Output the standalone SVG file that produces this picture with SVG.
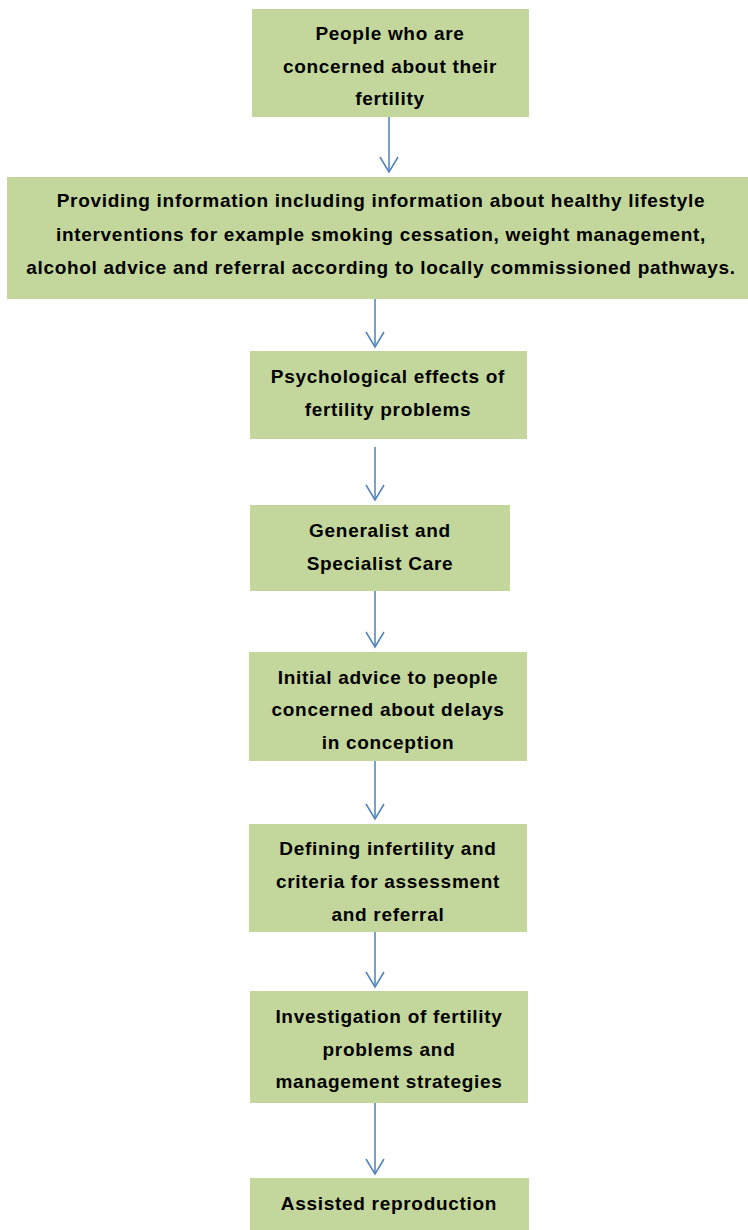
<svg xmlns="http://www.w3.org/2000/svg" width="748" height="1230" viewBox="0 0 748 1230">
<style>
.box{fill:#C3D69B;stroke:none}
.t{font-family:"Liberation Sans",Arial,sans-serif;font-weight:bold;font-size:19px;letter-spacing:0.7px;fill:#000;text-anchor:middle}
.c{stroke:#4F81BD;stroke-width:1.5;fill:none}
</style>
<defs>
<marker id="ah" markerUnits="userSpaceOnUse" markerWidth="20" markerHeight="22" refX="16" refY="10" orient="auto" viewBox="0 0 20 20">
<path d="M1 1 L16 10 L1 19" fill="none" stroke="#4F81BD" stroke-width="1.5"/>
</marker>
</defs>
<rect width="748" height="1230" fill="#fff"/>
<g id="connectors">
<path class="c" d="M389 117 V172" marker-end="url(#ah)"/>
<path class="c" d="M375 299 V347" marker-end="url(#ah)"/>
<path class="c" d="M375 447 V500" marker-end="url(#ah)"/>
<path class="c" d="M375 591 V647" marker-end="url(#ah)"/>
<path class="c" d="M375 761 V819" marker-end="url(#ah)"/>
<path class="c" d="M375 932 V987" marker-end="url(#ah)"/>
<path class="c" d="M375 1103 V1174" marker-end="url(#ah)"/>
</g>
<g id="n1"><rect class="box" x="252" y="9" width="277" height="108"/>
<text class="t" x="390"><tspan x="390" y="40">People who are</tspan><tspan x="390" y="73">concerned about their</tspan><tspan x="390" y="105">fertility</tspan></text></g>
<g id="n2"><rect class="box" x="7" y="177" width="741" height="122"/>
<text class="t" x="381"><tspan x="381" y="207">Providing information including information about healthy lifestyle</tspan><tspan x="381" y="241">interventions for example smoking cessation, weight management,</tspan><tspan x="381" y="274">alcohol advice and referral according to locally commissioned pathways.</tspan></text></g>
<g id="n3"><rect class="box" x="250" y="351" width="277" height="88"/>
<text class="t" x="388"><tspan x="388" y="383">Psychological effects of</tspan><tspan x="388" y="416">fertility problems</tspan></text></g>
<g id="n4"><rect class="box" x="250" y="505" width="260" height="86"/>
<text class="t" x="380"><tspan x="380" y="537">Generalist and</tspan><tspan x="380" y="570">Specialist Care</tspan></text></g>
<g id="n5"><rect class="box" x="249" y="652" width="278" height="109"/>
<text class="t" x="388"><tspan x="388" y="684">Initial advice to people</tspan><tspan x="388" y="716">concerned about delays</tspan><tspan x="388" y="749">in conception</tspan></text></g>
<g id="n6"><rect class="box" x="249" y="824" width="278" height="108"/>
<text class="t" x="388"><tspan x="388" y="855">Defining infertility and</tspan><tspan x="388" y="888">criteria for assessment</tspan><tspan x="388" y="921">and referral</tspan></text></g>
<g id="n7"><rect class="box" x="250" y="991" width="278" height="112"/>
<text class="t" x="389"><tspan x="389" y="1023">Investigation of fertility</tspan><tspan x="389" y="1056">problems and</tspan><tspan x="389" y="1088">management strategies</tspan></text></g>
<g id="n8"><rect class="box" x="250" y="1178" width="279" height="52"/>
<text class="t" x="389"><tspan x="389" y="1210">Assisted reproduction</tspan></text></g>
</svg>
